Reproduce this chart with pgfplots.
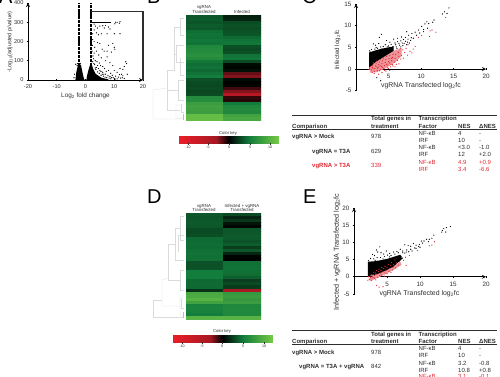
\documentclass[border=0pt]{standalone}
\usepackage{pgfplots}
\usepackage{fontspec}
\setmainfont{Liberation Sans}
\pgfplotsset{compat=1.18}
\definecolor{ink}{gray}{0.18}
\definecolor{rd}{RGB}{225,40,50}
\pgfplotsset{
 base/.style={scale only axis,anchor=south west,clip=false,
   /pgf/number format/assume math mode=true,
   tick label style={font=\fontsize{5.6}{6}\selectfont,text=ink},
   axis line style={black,line width=0.8pt,-},
   tick style={black,line width=0.7pt},
   tick align=outside,major tick length=2.2pt,
   minor tick num=0},
 scat/.style={base,axis x line=middle,axis y line=left,xmin=0,xmax=20,
   xtick={5,10,15,20},
   tick label style={font=\fontsize{6.3}{6.5}\selectfont,text=ink},
   x tick label style={below,yshift=-0.8pt},
   every axis x label/.style={},every axis y label/.style={}},
 rg/.style={colormap={rg}{rgb255(0cm)=(235,30,40); rgb255(9cm)=(165,25,35); rgb255(12cm)=(0,0,0); rgb255(17cm)=(18,125,60); rgb255(24cm)=(115,200,70)},
   point meta min=-12,point meta max=12},
 heat/.style={rg,scale only axis,anchor=south west,hide axis,xmin=-0.5,xmax=1.5,ymin=0.5,ymax=35.5,y dir=reverse},
 key/.style={base,rg,width=99pt,height=7pt,xmin=-12,xmax=12,ymin=0,ymax=1,
   axis lines=none,ytick=\empty,xtick=\empty},
 pk/.style={only marks,mark=*,mark size=0.32pt,black},
 pr/.style={only marks,mark=*,mark size=0.32pt,rd},
}
\newcommand{\fs}[1]{\fontsize{#1}{#1}\selectfont}
\begin{document}
\begin{tikzpicture}[x=1pt,y=1pt]
\useasboundingbox (0,0) rectangle (500,376);
\clip (0,0) rectangle (500,376);

% ---------- A
\begin{axis}[base,at={(28pt,296pt)},width=115pt,height=77pt,xmin=-20,xmax=20,ymin=0,ymax=400,
  axis x line=bottom,axis y line=left,xtick={-20,-10,0,10,20},ytick={0,100,200,300,400}]
\addplot[black,line width=1.7pt,dash pattern=on 1.1pt off 0.25pt] coordinates {(-2.2,0)(-2.2,400)};
\addplot[black,line width=1.7pt,dash pattern=on 1.1pt off 0.25pt] coordinates {(1.8,0)(1.8,400)};
\addplot[ink,line width=1.1pt] coordinates {(1.8,355)(20,355)(20,0)};
\addplot[fill=black,draw=none] coordinates {(-3.5,0)(-3.2,40)(-2.6,80)(-1.6,80)(-1.2,50)(-0.6,10)(-0.3,0)} \closedcycle;
\addplot[fill=black,draw=none] coordinates {(0.3,0)(0.5,20)(1,50)(1.5,75)(2,90)(2.6,60)(3.5,32)(5.5,12)(8,3)(8,0)} \closedcycle;
\addplot[black,line width=1pt] coordinates {(2,300)(9,300)};
\addplot[pk] coordinates {(10.2,292)(11,300)(12,303)(11.8,295)(10.5,300)(7,283)(6,282)(8,275)(8.5,265)(6.5,270)(5,280)(4.2,270)(3,290)(3.5,280)(3,260)(3.8,245)(2.5,240)(4.5,235)(5.5,240)(7.5,240)(10,240)(2.5,210)(3,200)(4.2,195)(5,190)(2.4,180)(3.2,170)(5.8,160)(6.5,150)(9.5,190)(8,180)(10,170)(7.5,150)(9,145)(10.2,160)(12,240)(2.3,150)(3,140)(3.8,150)(2.6,125)(4.6,130)(5.5,115)(7,100)(7.5,120)(8.5,90)(9.5,75)(10,50)(11,40)(12,60)(13,55)(14,95)(14.3,85)(13.5,70)(14.5,30)(12.5,30)(10.5,20)(2.8,110)(3.4,100)(4,95)(4.8,88)(5.2,75)(3.2,80)(6,70)(6.6,60)(7.2,45)(8,50)(8.8,35)(9.3,25)(6,40)(7,30)(4.5,60)(5,50)(5.8,30)(3.8,65)(11.5,15)(12.8,12)(13.5,8)(10,8)(9,12)(11,6)(-3.4,82)(-2.9,75)(-3.8,30)(-4,12)(-2.8,85)(-1.8,86)(2.5,95)(2.9,85)(3.6,55)(4.2,42)(4.8,35)(5.4,25)(6.2,20)(6.8,15)(7.4,12)(8.2,10)(8.8,6)(9.6,14)(10.3,5)(11.8,28)(12.2,10)(13,22)(4.2,75)(3.4,62)(5.4,44)(6.4,30)(7.8,22)(8.5,18)};
\end{axis}
\begin{scope}[y=-1pt,shift={(0,376pt)}]
\node[font=\fs{6.4},text=ink] at (85.5,95.5) {Log\textsubscript{2} fold change};
\node[font=\fs{5.6},text=ink,rotate=90] at (10,42) {-Log\textsubscript{10}(adjusted p/value)};
\node[font=\fs{20},anchor=base west,inner sep=0pt] at (-1,3) {A};
\node[font=\fs{20},anchor=base west,inner sep=0pt] at (147,3.3) {B};
\node[font=\fs{20},anchor=base west,inner sep=0pt] at (302,3) {C};
\node[font=\fs{20},anchor=base west,inner sep=0pt] at (147,203) {D};
\node[font=\fs{20},anchor=base west,inner sep=0pt] at (303,203) {E};
\end{scope}

% ---------- B heat
\begin{axis}[heat,at={(186pt,256pt)},width=75pt,height=105pt]
\addplot[matrix plot*,mesh/cols=2,point meta=explicit] coordinates {
(0,1)[3.5](1,1)[1.2] (0,2)[3.6](1,2)[1.4] (0,3)[3.4](1,3)[3.0] (0,4)[3.7](1,4)[3.2] (0,5)[3.5](1,5)[3.1]
(0,6)[4.4](1,6)[3.3] (0,7)[4.6](1,7)[3.4] (0,8)[4.5](1,8)[4.2] (0,9)[4.8](1,9)[4.6] (0,10)[4.6](1,10)[4.8]
(0,11)[6.0](1,11)[3.2] (0,12)[6.3](1,12)[3.0] (0,13)[6.5](1,13)[3.2] (0,14)[6.8](1,14)[4.6] (0,15)[6.4](1,15)[4.8]
(0,16)[4.8](1,16)[3.0] (0,17)[4.4](1,17)[0.4] (0,18)[4.6](1,18)[0.2] (0,19)[4.2](1,19)[0.6] (0,20)[4.6](1,20)[-1.8] (0,21)[5.0](1,21)[-2.4]
(0,22)[3.2](1,22)[0.5] (0,23)[3.0](1,23)[0.1] (0,24)[2.9](1,24)[0.2] (0,25)[3.0](1,25)[-1.2] (0,26)[2.8](1,26)[-2.4] (0,27)[3.0](1,27)[-5.0]
(0,28)[6.3](1,28)[-0.9] (0,29)[6.5](1,29)[-0.7] (0,30)[8.0](1,30)[5.0] (0,31)[8.4](1,31)[6.0] (0,32)[8.2](1,32)[6.3] (0,33)[8.0](1,33)[6.0]
(0,34)[11](1,34)[8.5] (0,35)[11](1,35)[9.0]};
\end{axis}
% ---------- D heat
\begin{axis}[heat,at={(186pt,57pt)},width=75pt,height=106pt]
\addplot[matrix plot*,mesh/cols=2,point meta=explicit] coordinates {
(0,1)[3.5](1,1)[3.0] (0,2)[3.4](1,2)[1.5] (0,3)[3.5](1,3)[2.2] (0,4)[3.6](1,4)[0.8] (0,5)[3.5](1,5)[0.2]
(0,6)[3.0](1,6)[3.5] (0,7)[3.0](1,7)[3.5] (0,8)[3.1](1,8)[3.6]
(0,9)[4.3](1,9)[3.6] (0,10)[4.3](1,10)[3.3] (0,11)[4.4](1,11)[3.7] (0,12)[4.3](1,12)[2.5]
(0,13)[4.5](1,13)[3.5] (0,14)[4.6](1,14)[1.5] (0,15)[4.5](1,15)[0.2] (0,16)[4.5](1,16)[0.1]
(0,17)[3.3](1,17)[4.5] (0,18)[3.2](1,18)[4.5] (0,19)[3.3](1,19)[4.6]
(0,20)[5.0](1,20)[4.5] (0,21)[5.1](1,21)[4.4] (0,22)[5.0](1,22)[3.8]
(0,23)[4.2](1,23)[2.5] (0,24)[4.3](1,24)[3.0] (0,25)[4.2](1,25)[2.4] (0,26)[2.0](1,26)[-3.5]
(0,27)[9.0](1,27)[7.5] (0,28)[9.2](1,28)[8.0] (0,29)[10](1,29)[7.5] (0,30)[8.5](1,30)[8.0]
(0,31)[5.5](1,31)[6.0] (0,32)[5.6](1,32)[6.0] (0,33)[5.4](1,33)[6.1] (0,34)[5.0](1,34)[6.0] (0,35)[10](1,35)[10]};
\end{axis}
% ---------- colour keys
\begin{axis}[key,at={(179pt,233pt)}]
\addplot[surf,shader=interp,mesh/rows=2,point meta=x] coordinates {(-12,0)(12,0)(-12,1)(12,1)};
\end{axis}
\begin{axis}[key,at={(173pt,34pt)}]
\addplot[surf,shader=interp,mesh/rows=2,point meta=x] coordinates {(-12,0)(12,0)(-12,1)(12,1)};
\end{axis}

% ---------- C
\begin{axis}[scat,at={(356pt,285.3pt)},width=130pt,height=86.7pt,ymin=-5,ymax=15,ytick={-5,0,5,10,15}]
\addplot[fill=rd!50,draw=none] coordinates {(2,0.2)(3,1.6)(4.5,3)(5.8,4.2)(7,4.8)(7,3)(6,1.5)(5,0.6)(4,-0.2)(3,-0.8)(2.2,-0.6)} --cycle;
\addplot[fill=black,draw=none] coordinates {(2,0.3)(2,3.8)(3,4.3)(4,4.7)(5,5)(5.8,5.2)(5.8,4.2)(4.5,3)(3,1.6)(2.2,0.5)} --cycle;
\addplot[pk] coordinates {(14.3,14.1)(13.6,13.2)(13.3,12.7)(14,12.8)(12,11.3)(11.8,10.8)(11.2,10.5)(10.9,10.9)(10.6,10.4)(10.1,9.8)(9.6,9)(9.1,8.5)(8.6,8.2)(7.8,8.6)(3.9,8)(3.6,7.3)(2.7,5.8)(3,5.5)(3.5,5.9)(4.7,6.6)(5.2,6.2)(5.8,6.9)(6.4,7.1)(7,7.4)(7.6,7.3)(8.1,7.8)(8.5,7.2)(9.3,7.8)(9.8,8.3)(10.4,9.1)(11,9.4)(10.4,8.6)(2.1,4.2)(2.2,3.9)(2.4,4.5)(2.9,4.6)(3.3,4.8)(3.8,5.1)(4.2,5.2)(4.5,5.6)(5,5.3)(5.4,5.7)(6,6)(6.4,6.3)(6.9,6.5)(7.3,6.8)(7.6,6.4)(8,6.9)(7.9,6.2)(8.4,6.6)(8.8,7.1)(7.4,5.9)(6.7,5.5)(3.1,5)(4,4.6)(4.8,5.1)(5.7,5.2)(6.3,4.7)(6.9,5.1)(7.8,5.6)(6.1,5.6)(6.6,5.9)(7.1,6)(6.2,5.1)(7.2,5.4)(8.2,6)};
\addplot[pr] coordinates {(13.8,11.9)(11.4,8.8)(11.7,9)(12.3,8.5)(11.3,7.5)(9.6,7.3)(10.1,7.7)(9.1,5.2)(8.8,4.6)(8.6,3.7)(8,5.6)(8.3,4.1)(7.7,4.8)(7.9,3.2)(7.5,3.8)(7.2,4.4)(7,3.2)(6.9,2.3)(6.5,3.8)(6.6,2.9)(6.4,2)(6.2,1.1)(6.1,3.3)(6,2.4)(5.9,1.6)(5.7,3.4)(5.6,2.7)(5.5,1.9)(5.4,1.1)(5.3,0.5)(5.2,3.1)(5.1,2.4)(5,1.7)(4.9,0.9)(4.8,0.3)(4.7,2.9)(4.6,2.2)(4.5,1.5)(4.4,0.8)(4.3,0.1)(4.2,2.5)(4.1,1.9)(4,1.2)(3.9,0.6)(3.8,-0.1)(3.7,2.2)(3.6,1.6)(3.5,1)(3.4,0.4)(3.3,-0.4)(3.2,1.8)(3.1,1.2)(3,0.7)(2.9,0.1)(2.8,-0.5)(2.7,1.4)(2.6,0.9)(2.5,0.4)(2.4,-0.2)(2.3,-0.7)(2.2,0.6)(2.1,0.2)(2,-0.1)(6.8,4.7)(5,0.1)(5.7,0.7)(6.6,1.2)(7.3,2.5)(3.5,-1.2)(4,-0.8)(4.6,-0.5)(2.8,-1)(5.2,-0.3)(3.3,0.1)(3.7,0.7)(4.7,1.1)(5.2,1.4)(5.6,1)(2.6,0.2)(3.2,0.5)(3.6,-0.4)(4.1,0.4)(4.4,-0.3)(2.5,-0.8)(5.5,2.5)(6,0.5)};
\addplot[pk] coordinates {(3.8,-2.7)(3.2,-2)};
\end{axis}

% ---------- E
\begin{axis}[scat,at={(354pt,82pt)},width=132pt,height=86pt,ymin=-5,ymax=20,ytick={-5,0,5,10,15,20}]
\addplot[fill=rd!50,draw=none] coordinates {(2.3,-0.5)(3,0.5)(4,1.1)(5,2)(6,3)(7,4.4)(7.2,3.5)(6,2)(5,1)(4,0.1)(3,-0.8)(2.4,-1.2)} --cycle;
\addplot[fill=black,draw=none] coordinates {(2.1,0.2)(2.1,4.4)(3,4.5)(4,4.8)(5,5.2)(6,5.8)(7,6.4)(7.4,5.4)(6,3)(5,2)(4,1.1)(3,0.5)} --cycle;
\addplot[pk] coordinates {(14.6,14.6)(14,14.3)(13.6,14)(13.4,13.5)(13.3,13)(13.9,13)(12.1,12.1)(11.8,11.2)(11.4,10.9)(11,10.9)(10.6,10.4)(10.2,10.4)(9.9,9.4)(9.4,9.2)(9,9.7)(8.6,8.9)(8.2,9.1)(7.7,9.3)(3.9,8.7)(3.4,7.8)(3.6,7.2)(2.8,6.5)(3.1,6.2)(4.1,7)(4.5,6.6)(4.9,7.5)(5.4,6.8)(6,7.2)(6.5,7.4)(7,8)(7.4,7.5)(8,7.8)(8.6,8)(9.2,8.4)(9.8,8.8)(10.4,9.8)(11.3,10.2)(2.2,4.7)(2.5,5.3)(3,5.2)(3.5,5.6)(4,5.6)(4.6,5.9)(5.1,6.3)(5.6,6.2)(6.2,6.6)(6.7,7)(7.4,7)(7.9,7.2)(8.3,7.3)(8.8,7.5)(9.4,8.3)(10,8.6)(5.4,5.8)(4.4,5.2)(3.2,4.8)(7.7,6.9)};
\addplot[pr] coordinates {(11.8,9.2)(11.4,9)(12.2,10.2)(9.6,7.6)(8.4,6.2)(7.8,5.7)(7.9,3.3)(7.5,4.8)(7.2,5.6)(6.9,4.4)(6.7,3.4)(6.4,4)(6.2,4.9)(6,3.5)(5.9,2.7)(5.7,4.1)(5.5,3.2)(5.4,2.4)(5.2,3.5)(5,2.8)(4.9,1.9)(4.7,3)(4.5,2.4)(4.4,1.5)(4.2,2.7)(4.1,1.9)(4,1.1)(3.8,2.2)(3.7,1.5)(3.5,0.8)(3.4,1.8)(3.3,1.1)(3.1,0.4)(3,1.3)(2.9,0.7)(2.8,0)(2.6,0.6)(2.5,-0.3)(2.4,0.2)(2.3,-0.8)(2.2,0)(2.1,-1)(3.1,-0.4)(3.6,-0.2)(4.2,0.5)(4.7,1.1)(5.3,1.6)(5.8,2)(6.3,2.6)(2.7,-1)(3.3,-0.9)(3.8,-3)(4.4,-2.9)(3.4,-2.5)(4.6,0.2)(5,0.9)(5.6,1.2)(3.9,0.3)(2.9,-0.3)};
\end{axis}

\begin{scope}[y=-1pt,shift={(0,376pt)}]
% heat labels
\node[font=\fs{4.4},text=ink,align=center] at (204,9.5) {vgRNA\\[0.3pt]Transfected};
\node[font=\fs{4.4},text=ink] at (242,11.7) {Infected};
\node[font=\fs{4.2},text=ink] at (228,133) {Color key};
\foreach \x/\t in {188/-10,208/-5,229/0,250/5,270/10}{
  \draw[ink,line width=0.25pt] (\x,143)--(\x,144.5);
  \node[font=\fs{3.6},text=ink] at (\x,147) {\t};}
\node[font=\fs{4.4},text=ink,align=center] at (204,208) {vgRNA\\[0.3pt]Transfected};
\node[font=\fs{4.4},text=ink,align=center] at (242,208) {Infected + vgRNA\\[0.3pt]Transfected};
\node[font=\fs{4.2},text=ink] at (222,331.5) {Color key};
\foreach \x/\t in {182/-10,202/-5,222/0,243/5,264/10}{
  \draw[ink,line width=0.25pt] (\x,342)--(\x,343.5);
  \node[font=\fs{3.6},text=ink] at (\x,346) {\t};}
% dendrograms
\begin{scope}[gray!28,line width=0.25pt]
\draw (184,18)--(180,18)--(180,35)--(184,35) (180,27)--(174,27)--(174,70)--(167,70)--(167,110)--(180,110);
\draw (184,45)--(176,45)--(176,62)--(184,62) (176,54)--(174,54);
\draw (184,80)--(178,80)--(178,100)--(184,100) (178,90)--(167,90);
\draw (167,88)--(153,90)--(153,119)--(183,119) (183,105)--(176,105)--(176,118)--(184,118);
\draw (184,75)--(180,75)--(180,58) (184,112)--(181,112)--(181,104);
\draw[blue!30] (183.5,114)--(183.5,120);
\draw (184,216)--(180,216)--(180,240)--(184,240) (180,228)--(175,228)--(175,260)--(184,260);
\draw (175,244)--(168,244)--(168,280)--(180,280)--(180,270)--(184,270) (180,290)--(184,290)--(180,290)--(180,280);
\draw (168,278)--(162,280)--(162,306)--(180,306)--(180,296)--(184,296) (180,315)--(184,315)--(180,315)--(180,306);
\draw (162,300)--(153,300)--(153,317)--(183,317);
\draw (184,235)--(178,235)--(178,252) (184,308)--(181,308)--(181,298);
\draw[blue!30] (183.5,312)--(183.5,318);
\end{scope}
% scatter labels
\node[font=\fs{6.9},text=ink] at (421,85.5) {vgRNA Transfected log\textsubscript{2}fc};
\node[font=\fs{6.2},text=ink,rotate=90] at (337.5,50) {Infected log\textsubscript{2}fc};
\node[font=\fs{6.9},text=ink] at (419.5,293.5) {vgRNA Transfected log\textsubscript{2}fc};
\node[font=\fs{7.2},text=ink,rotate=90] at (337,252) {Infected + vgRNA Transfected log\textsubscript{2}fc};
% table 1
\draw[ink,line width=0.9pt] (292,115)--(497,115);
\draw[ink,line width=0.6pt] (292,129.3)--(497,129.3);
\newcommand{\tx}[4][ink]{\node[font=\fs{6},text=#1,anchor=base west,inner sep=0pt] at (#2,#3) {#4};}
\tx{371}{120.5}{\bfseries Total genes in} \tx{371}{128}{\bfseries treatment}
\tx{418.5}{120.5}{\bfseries Transcription} \tx{418.5}{128}{\bfseries Factor}
\tx{292}{128}{\bfseries Comparison} \tx{458}{128}{\bfseries NES} \tx{479}{128}{\bfseries ΔNES}
\tx{292}{138.5}{\bfseries vgRNA > Mock} \tx{371}{138.5}{978}
\tx{312}{153}{\bfseries vgRNA = T3A} \tx{371}{153}{629}
\tx[rd]{312}{167.5}{\bfseries vgRNA > T3A} \tx[rd]{371}{167.5}{339}
\tx{418.5}{135}{NF-κB} \tx{458}{135}{4} \tx{479}{135}{-}
\tx{418.5}{142.5}{IRF} \tx{458}{142.5}{10} \tx{479}{142.5}{-}
\tx{418.5}{149.5}{NF-κB} \tx{458}{149.5}{<3.0} \tx{479}{149.5}{-1.0}
\tx{418.5}{156.5}{IRF} \tx{458}{156.5}{12} \tx{479}{156.5}{+2.0}
\tx[rd]{418.5}{164}{NF-κB} \tx[rd]{458}{164}{4.9} \tx[rd]{479}{164}{+0.9}
\tx[rd]{418.5}{171}{IRF} \tx[rd]{458}{171}{3.4} \tx[rd]{479}{171}{-6.6}
% table 2
\draw[ink,line width=0.9pt] (292,330)--(497,330);
\draw[ink,line width=0.6pt] (292,344)--(497,344);
\tx{371}{336}{\bfseries Total genes in} \tx{371}{343}{\bfseries treatment}
\tx{418.5}{336}{\bfseries Transcription} \tx{418.5}{343}{\bfseries Factor}
\tx{292}{343}{\bfseries Comparison} \tx{458}{343}{\bfseries NES} \tx{479}{343}{\bfseries ΔNES}
\tx{292}{354}{\bfseries vgRNA > Mock} \tx{371}{354}{978}
\tx{299}{368.5}{\bfseries vgRNA = T3A + vgRNA} \tx{371}{368.5}{842}
\tx{418.5}{350}{NF-κB} \tx{458}{350}{4} \tx{479}{350}{-}
\tx{418.5}{357.5}{IRF} \tx{458}{357.5}{10} \tx{479}{357.5}{-}
\tx{418.5}{365}{NF-κB} \tx{458}{365}{3.2} \tx{479}{365}{-0.8}
\tx{418.5}{372}{IRF} \tx{458}{372}{10.8} \tx{479}{372}{+0.8}
\tx[rd]{418.5}{378.5}{NF-κB} \tx[rd]{458}{378.5}{3.1} \tx[rd]{479}{378.5}{-0.1}
\end{scope}
\end{tikzpicture}
\end{document}
